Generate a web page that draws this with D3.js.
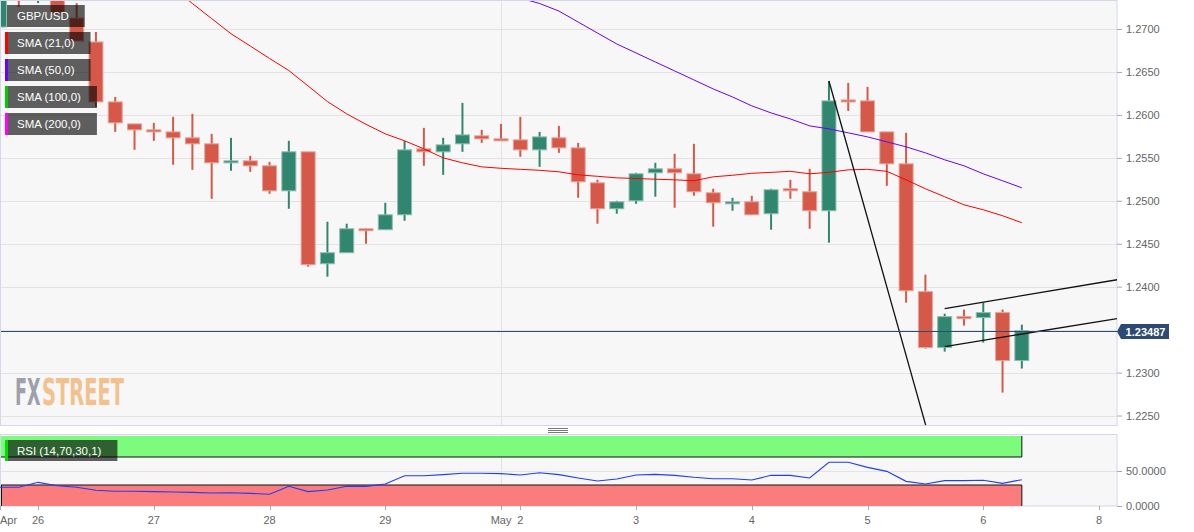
<!DOCTYPE html>
<html><head><meta charset="utf-8">
<script src="https://cdn.jsdelivr.net/npm/d3@7"></script>
<style>
html,body{margin:0;padding:0;background:#fff;}
svg{display:block;font-family:"Liberation Sans",Arial,sans-serif;}
</style></head><body>
<svg id="c" width="1194" height="532"></svg>
<script>
// ---- data (4-hour candles, index 0..53) ----
const opens=[1.27023,1.2752,1.2740,1.2745,1.27128,1.26849,1.26151,1.25895,1.25826,1.25802,1.25733,1.25663,1.25442,1.25465,1.25407,1.25116,1.25570,1.24267,1.24395,1.24674,1.24663,1.24837,1.25605,1.25570,1.25663,1.25756,1.25721,1.25709,1.25593,1.25733,1.25616,1.25209,1.24907,1.25000,1.25326,1.25372,1.25314,1.25093,1.24965,1.24988,1.24849,1.25140,1.25105,1.24884,1.26174,1.26163,1.25802,1.25430,1.23942,1.23291,1.23651,1.23640,1.23698,1.23140];
const highs=[1.2755,1.2758,1.2752,1.2750,1.27302,1.26965,1.26209,1.25895,1.25907,1.25977,1.26012,1.25779,1.25733,1.25523,1.25453,1.25698,1.25570,1.24756,1.24733,1.24674,1.24977,1.25698,1.25849,1.25733,1.26140,1.25826,1.25895,1.25977,1.25802,1.25872,1.25674,1.25244,1.25000,1.25326,1.25442,1.25547,1.25663,1.25140,1.25035,1.25058,1.25140,1.25244,1.25372,1.26395,1.26372,1.26326,1.25802,1.25791,1.24140,1.23686,1.23733,1.23814,1.23733,1.23558];
const lows=[1.26988,1.27256,1.27302,1.2718,1.2686,1.26093,1.25802,1.25593,1.25698,1.25419,1.25360,1.25023,1.25349,1.25337,1.25081,1.24907,1.24233,1.24116,1.24395,1.24500,1.24663,1.24767,1.25407,1.25302,1.25570,1.25674,1.25709,1.25512,1.25395,1.25558,1.25035,1.24733,1.24849,1.24965,1.25047,1.24919,1.25058,1.24698,1.24884,1.24837,1.24663,1.25023,1.24674,1.24512,1.26046,1.25802,1.25174,1.23814,1.23279,1.23244,1.23547,1.23349,1.22767,1.23047];
const closes=[1.2750,1.2740,1.2745,1.27186,1.26860,1.26151,1.25907,1.25826,1.25802,1.25733,1.25663,1.25442,1.25465,1.25407,1.25116,1.25570,1.24256,1.24395,1.24674,1.24651,1.24837,1.25593,1.25570,1.25651,1.25767,1.25721,1.25709,1.25593,1.25744,1.25616,1.25221,1.24907,1.24988,1.25314,1.25372,1.25326,1.25105,1.24977,1.24988,1.24837,1.25128,1.25116,1.24884,1.26163,1.26163,1.25802,1.25430,1.23953,1.23291,1.23651,1.23628,1.23698,1.23140,1.23487];
const sma21Start=9;
const sma21=[1.27477,1.27297,1.27121,1.26945,1.26802,1.26657,1.26516,1.26337,1.26155,1.26012,1.25890,1.25779,1.25698,1.25605,1.25500,1.25442,1.25395,1.25378,1.25366,1.25355,1.25337,1.25302,1.25285,1.25267,1.25259,1.25251,1.25244,1.25233,1.25279,1.25297,1.25320,1.25331,1.25343,1.25314,1.25331,1.25360,1.25366,1.25343,1.25244,1.25140,1.25047,1.24953,1.24895,1.24826,1.24744];
const sma50Start=26;
const sma50=[1.27407,1.27360,1.27297,1.27209,1.27081,1.26953,1.26826,1.26721,1.26616,1.26512,1.26407,1.26302,1.26209,1.26105,1.26023,1.25953,1.25872,1.25837,1.25791,1.25744,1.25686,1.25628,1.25558,1.25477,1.25407,1.25314,1.25233,1.25151];
const rsi=[26.7,26.7,33.8,29.0,26.7,22.4,21.0,21.0,20.5,20.0,19.5,18.6,19.0,18.1,16.7,28.1,20.5,22.9,28.1,28.1,31.4,43.3,43.3,44.8,46.7,46.7,46.2,44.3,47.6,44.8,40.0,35.7,38.6,44.3,45.2,43.8,41.0,39.0,39.0,37.1,43.8,43.8,40.0,62.4,62.4,55.2,49.5,35.2,31.4,36.2,36.2,36.7,32.4,37.6];
const rsiUpper=70, rsiLower=30;
const priceTicks=[1.2250,1.2300,1.2350,1.2400,1.2450,1.2500,1.2550,1.2600,1.2650,1.2700];
const shownPriceTicks=[1.2250,1.2300,1.2400,1.2450,1.2500,1.2550,1.2600,1.2650,1.2700];
const rsiTicks=[0,50];
const dayTicks=[{i:2,label:"26"},{i:8,label:"27"},{i:14,label:"28"},{i:20,label:"29"},{i:27,label:"2"},{i:33,label:"3"},{i:39,label:"4"},{i:45,label:"5"},{i:51,label:"6"},{i:57,label:"8"}];
const monthTicks=[{i:0,label:"Apr"},{i:26,label:"May"}];
const lastPrice=1.23487;
const trendLines=[[[43,1.26395],[48.4,1.2208]],[[49,1.23744],[58.5,1.24102]],[[49,1.23302],[58.5,1.23649]]];
const legendItems=[{label:"GBP/USD",color:null},{label:"SMA (21,0)",color:"#ff0000"},{label:"SMA (50,0)",color:"#6a00ff"},{label:"SMA (100,0)",color:"#00cc00"},{label:"SMA (200,0)",color:"#ff00ff"}];
const rsiLegend={label:"RSI (14,70,30,1)",color:"#00dd00"};

// ---- layout ----
const svg=d3.select("#c");
const PL=0, PR=1117, PT=0, PB=425, RT=435, RB=506;
const x=d3.scaleLinear().domain([0,57]).range([-0.5,1099]);
const y=d3.scaleLinear().domain([1.225,1.27]).range([415.5,29]);
const ry=d3.scaleLinear().domain([0,100]).range([506,436]);
const GREEN="#31866f", RED="#d55848", BORDER="#d3d8e8", GRID="#e3e3e3", AX="#666";

// main panel
svg.append("rect").attr("x",PL+0.5).attr("y",PT+0.5).attr("width",PR-PL-0.5).attr("height",PB-PT).attr("fill","#f7f7f7").attr("stroke",BORDER);
svg.append("g").selectAll("line").data(priceTicks).join("line")
  .attr("x1",PL+1).attr("x2",PR).attr("y1",d=>Math.round(y(d))+0.5).attr("y2",d=>Math.round(y(d))+0.5)
  .attr("stroke",GRID);
svg.append("line").attr("x1",Math.round(x(26))+0.5).attr("x2",Math.round(x(26))+0.5).attr("y1",PT+1).attr("y2",PB).attr("stroke",GRID);

// watermark (two words, each scaled horizontally to its width)
function wmWord(txt,x0,targetW,fill){
  const t=svg.append("text").attr("x",0).attr("y",0)
    .attr("font-family","'Liberation Sans Narrow','DejaVu Sans Condensed','Liberation Sans',sans-serif")
    .attr("font-weight","bold").attr("font-size",37).attr("fill",fill).text(txt);
  const w=t.node().getComputedTextLength();
  t.attr("transform",`translate(${x0},405) scale(${targetW/w},1)`);
}
wmWord("FX",15,25.5,"#9da0a8");
wmWord("STREET",42,82,"#f3c18d");

svg.append("clipPath").attr("id","mc").append("rect").attr("x",PL+1).attr("y",PT+1).attr("width",PR-PL-1).attr("height",PB-PT-1);
const g=svg.append("g").attr("clip-path","url(#mc)");

// candles
const idx=d3.range(opens.length);
const col=i=>closes[i]>=opens[i]?GREEN:RED;
g.append("g").selectAll("line").data(idx).join("line")
  .attr("x1",i=>x(i)).attr("x2",i=>x(i)).attr("y1",i=>y(highs[i])).attr("y2",i=>y(lows[i]))
  .attr("stroke",col).attr("stroke-width",2);
g.append("g").selectAll("rect").data(idx).join("rect")
  .attr("x",i=>x(i)-7).attr("width",14)
  .attr("y",i=>y(Math.max(opens[i],closes[i])))
  .attr("height",i=>Math.max(2,Math.abs(y(opens[i])-y(closes[i]))))
  .attr("fill",col).attr("stroke",i=>d3.interpolateRgb(col(i),"#fff")(0.45)).attr("stroke-width",1);

// SMAs
const line=d3.line().x(d=>x(d[0])).y(d=>y(d[1]));
g.append("path").attr("d",line(sma21.map((v,k)=>[k+sma21Start,v]))).attr("fill","none").attr("stroke","#ff0000").attr("stroke-width",1);
g.append("path").attr("d",line(sma50.map((v,k)=>[k+sma50Start,v]))).attr("fill","none").attr("stroke","#6a00ff").attr("stroke-width",1);

// trend lines
g.append("g").selectAll("path").data(trendLines).join("path").attr("d",line).attr("fill","none").attr("stroke","#111").attr("stroke-width",1.3);

// last price line
g.append("line").attr("x1",PL).attr("x2",PR).attr("y1",Math.round(y(lastPrice))+0.5).attr("y2",Math.round(y(lastPrice))+0.5).attr("stroke","#2c4a72").attr("stroke-width",1);

// legend helper
function legendBox(parent,d,ty,h){
  const gg=parent.append("g");
  const bx=d.color?8:7;
  const r=gg.append("rect").attr("x",bx).attr("y",ty).attr("height",h).attr("fill","rgba(0,0,0,0.62)");
  const t=gg.append("text").attr("x",17).attr("y",ty+h/2+4).attr("fill","#fff").attr("font-size",11.5).text(d.label);
  const w=t.node().getComputedTextLength();
  r.attr("width",17+w+16-bx);
  if(d.color) gg.append("rect").attr("x",5).attr("y",ty).attr("width",3).attr("height",h).attr("fill",d.color);
}
const lg=svg.append("g");
legendItems.forEach((d,k)=>legendBox(lg,d,5+27*k,22));

// right price axis
const ya=svg.append("g").attr("transform",`translate(${PR},0)`)
  .call(d3.axisRight(y).tickValues(shownPriceTicks).tickSize(5).tickPadding(4).tickFormat(d3.format(".4f")));
ya.select(".domain").remove();
ya.selectAll("line").attr("stroke","#aaa");
ya.selectAll("text").attr("fill",AX).attr("font-size",11).attr("font-family","'Liberation Sans',Arial,sans-serif");

// last price label
const ly=Math.round(y(lastPrice))+0.5;
svg.append("path").attr("d",`M${PR},${ly} L${PR+4},${ly-7.5} L1169,${ly-7.5} L1169,${ly+7.5} L${PR+4},${ly+7.5} Z`).attr("fill","#2d4a72");
svg.append("text").attr("x",1145.5).attr("y",ly+4).attr("text-anchor","middle").attr("fill","#fff").attr("font-weight","bold").attr("font-size",11).text(d3.format(".5f")(lastPrice));

// handle
svg.append("g").selectAll("line").data([0,1,2]).join("line")
  .attr("x1",548).attr("x2",568).attr("y1",k=>428.5+2*k).attr("y2",k=>428.5+2*k).attr("stroke","#777");

// RSI panel
svg.append("rect").attr("x",PL+0.5).attr("y",RT-0.5).attr("width",PR-PL-0.5).attr("height",RB-RT+0.5).attr("fill","#f7f7f7").attr("stroke",BORDER);
svg.append("g").selectAll("line").data([50]).join("line").attr("x1",1).attr("x2",PR).attr("y1",d=>Math.round(ry(d))+0.5).attr("y2",d=>Math.round(ry(d))+0.5).attr("stroke",GRID);
svg.append("line").attr("x1",Math.round(x(26))+0.5).attr("x2",Math.round(x(26))+0.5).attr("y1",RT).attr("y2",RB).attr("stroke",GRID);
const bandR=x(rsi.length-1);
svg.append("rect").attr("x",1).attr("y",ry(100)).attr("width",bandR-1).attr("height",ry(rsiUpper)-ry(100)).attr("fill","#7cfb7c");
svg.append("rect").attr("x",1).attr("y",ry(rsiLower)).attr("width",bandR-1).attr("height",ry(0)-ry(rsiLower)).attr("fill","#fb7c7c");
const bl=svg.append("g").attr("stroke","#111").attr("stroke-width",1);
bl.append("line").attr("x1",1).attr("x2",bandR).attr("y1",ry(rsiUpper)).attr("y2",ry(rsiUpper));
bl.append("line").attr("x1",1).attr("x2",bandR).attr("y1",ry(rsiLower)).attr("y2",ry(rsiLower));
bl.append("line").attr("x1",bandR).attr("x2",bandR).attr("y1",ry(100)).attr("y2",ry(rsiUpper));
bl.append("line").attr("x1",bandR).attr("x2",bandR).attr("y1",ry(rsiLower)).attr("y2",ry(0));
bl.append("line").attr("x1",1.5).attr("x2",1.5).attr("y1",ry(rsiLower)).attr("y2",ry(0));
svg.append("path").attr("d",d3.line().x((d,i)=>x(i)).y(d=>ry(d))(rsi)).attr("fill","none").attr("stroke","#1f3cff").attr("stroke-width",1.1);

// RSI legend
legendBox(svg,rsiLegend,440,21);

// RSI axis
const ra=svg.append("g").attr("transform",`translate(${PR},0)`)
  .call(d3.axisRight(ry).tickValues(rsiTicks).tickSize(5).tickPadding(4).tickFormat(d3.format(".4f")));
ra.select(".domain").remove();
ra.selectAll("line").attr("stroke","#aaa");
ra.selectAll("text").attr("fill",AX).attr("font-size",11).attr("font-family","'Liberation Sans',Arial,sans-serif");

// bottom time axis
const xa=svg.append("g");
const allTicks=dayTicks.concat(monthTicks);
xa.selectAll("line").data(allTicks).join("line")
  .attr("x1",d=>Math.round(x(d.i))+0.5).attr("x2",d=>Math.round(x(d.i))+0.5).attr("y1",RB).attr("y2",RB+4).attr("stroke","#aaa");
xa.selectAll("text").data(allTicks).join("text")
  .attr("x",d=>x(d.i)).attr("y",524).attr("text-anchor","middle").attr("fill",AX).attr("font-size",11).text(d=>d.label)
  .each(function(d){const w=this.getComputedTextLength(); if(x(d.i)-w/2<0){d3.select(this).attr("x",0).attr("text-anchor","start");}});
</script>
</body></html>
